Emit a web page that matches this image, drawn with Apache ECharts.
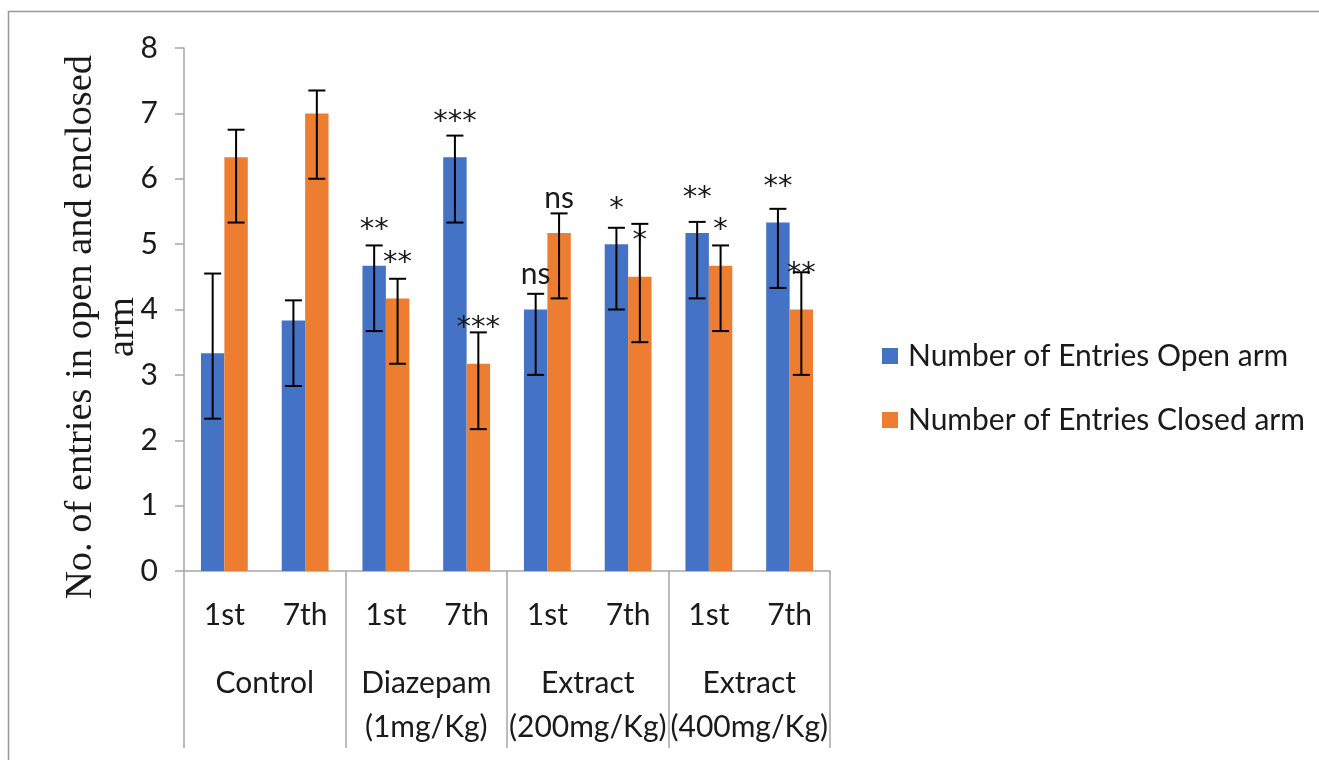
<!DOCTYPE html>
<html>
<head>
<meta charset="utf-8">
<script src="https://cdn.jsdelivr.net/npm/echarts@6/dist/echarts.min.js"></script>
<style>
  html, body { margin: 0; padding: 0; background: #fff; }
  #main { width: 1319px; height: 760px; }
</style>
</head>
<body>
<div id="main"></div>
<script>
// day labels and treatment groups
var days = ['1st', '7th', '1st', '7th', '1st', '7th', '1st', '7th'];
var groups = ['Control', 'Diazepam\n(1mg/Kg)', 'Extract\n(200mg/Kg)', 'Extract\n(400mg/Kg)'];

// mean number of entries
var openArm = [3.33, 3.83, 4.67, 6.33, 4.0, 5.0, 5.17, 5.33];
var closedArm = [6.33, 7.0, 4.17, 3.17, 5.17, 4.5, 4.67, 4.0];

// error bars (plus / minus)
var openErrPlus = [1.22, 0.31, 0.31, 0.33, 0.24, 0.25, 0.17, 0.21];
var openErrMinus = [1, 1, 1, 1, 1, 1, 1, 1];
var closedErrPlus = [0.42, 0.35, 0.30, 0.48, 0.30, 0.81, 0.31, 0.57];
var closedErrMinus = [1, 1, 1, 1, 1, 1, 1, 1];

// significance marks
var openSig = ['', '', '**', '***', 'ns', '*', '**', '**'];
var closedSig = ['', '', '**', '***', 'ns', '*', '*', '**'];

var BAR_W = 0.29; // fraction of the band
var LABEL_FONT = 'Lato';
var GREY = '#a6a6a6';

function errData(means, plus, minus){
  return means.map(function(m, i){ return [i, m - minus[i], m + plus[i]]; });
}

// draws an error bar at the bar centre, side = -1 (open) or 1 (closed)
function errRenderer(side){
  return function(params, api){
    var band = api.size([1, 0])[0];
    var off = side * band * BAR_W / 2;
    var lo = api.coord([api.value(0), api.value(1)]);
    var hi = api.coord([api.value(0), api.value(2)]);
    var x = lo[0] + off;
    var cap = 8.5;
    var st = { stroke: '#000', lineWidth: 2 };
    return {
      type: 'group',
      children: [
        { type: 'line', shape: { x1: x, y1: lo[1], x2: x, y2: hi[1] }, style: st },
        { type: 'line', shape: { x1: x - cap, y1: hi[1], x2: x + cap, y2: hi[1] }, style: st },
        { type: 'line', shape: { x1: x - cap, y1: lo[1], x2: x + cap, y2: lo[1] }, style: st }
      ]
    };
  };
}

function sigLabel(marks){
  return {
    show: true,
    position: 'top',
    distance: 20,
    formatter: function(p){
      var m = marks[p.dataIndex];
      if (!m) return '';
      return m === 'ns' ? '{n|' + m + '}' : '{a|' + m + '}';
    },
    rich: {
      n: { fontFamily: LABEL_FONT, fontSize: 30, lineHeight: 30, color: '#1a1a1a' },
      a: { fontFamily: 'DejaVu Sans', fontSize: 29, lineHeight: 30, color: '#1a1a1a' }
    }
  };
}

var chart = echarts.init(document.getElementById('main'), null, { renderer: 'canvas' });

chart.setOption({
  animation: false,
  color: ['#4472C4', '#ED7D31'],
  grid: { left: 184, right: 489, top: 48, bottom: 189, containLabel: false },
  legend: {
    orient: 'vertical',
    left: 882,
    top: 337,
    padding: 0,
    icon: 'rect',
    itemWidth: 16,
    itemHeight: 16,
    itemGap: 26,
    selectedMode: false,
    textStyle: { fontFamily: LABEL_FONT, fontSize: 30, lineHeight: 38, color: '#1a1a1a', padding: [0, 0, 0, 5] },
    data: ['Number of Entries Open arm', 'Number of Entries Closed arm']
  },
  xAxis: [
    {
      type: 'category',
      data: days,
      axisLine: { lineStyle: { color: GREY, width: 1.5 } },
      axisTick: { show: false },
      axisLabel: { interval: 0, margin: 29, fontFamily: LABEL_FONT, fontSize: 30, lineHeight: 30, color: '#1a1a1a' }
    },
    {
      type: 'category',
      position: 'bottom',
      data: groups,
      axisLine: { show: false },
      axisTick: { show: true, length: 177, interval: 0, lineStyle: { color: GREY, width: 1.5 } },
      axisLabel: { interval: 0, margin: 90, fontFamily: LABEL_FONT, fontSize: 30, lineHeight: 44, color: '#1a1a1a' }
    }
  ],
  yAxis: {
    type: 'value',
    min: 0,
    max: 8,
    interval: 1,
    splitLine: { show: false },
    axisLine: { show: true, lineStyle: { color: GREY, width: 1.5 } },
    axisTick: { show: true, length: 9, lineStyle: { color: GREY, width: 1.5 } },
    axisLabel: { margin: 26, fontFamily: LABEL_FONT, fontSize: 30, color: '#1a1a1a' }
  },
  graphic: [
    {
      type: 'rect',
      shape: { x: 8.5, y: 11.5, width: 1330, height: 800 },
      style: { fill: 'none', stroke: '#999', lineWidth: 1.5 },
      silent: true
    },
    {
      type: 'text',
      x: 102,
      y: 327,
      rotation: Math.PI / 2,
      style: {
        text: 'No. of entries in open and enclosed\narm',
        font: '38.5px "Liberation Serif"',
        fill: '#1a1a1a',
        textAlign: 'center',
        textVerticalAlign: 'middle',
        lineHeight: 42
      }
    }
  ],
  series: [
    {
      name: 'Number of Entries Open arm',
      type: 'bar',
      barWidth: (BAR_W * 100) + '%',
      barGap: '0%',
      data: openArm,
      label: sigLabel(openSig)
    },
    {
      name: 'Number of Entries Closed arm',
      type: 'bar',
      barWidth: (BAR_W * 100) + '%',
      barGap: '0%',
      data: closedArm,
      label: sigLabel(closedSig)
    },
    {
      type: 'custom',
      renderItem: errRenderer(-1),
      data: errData(openArm, openErrPlus, openErrMinus),
      z: 3
    },
    {
      type: 'custom',
      renderItem: errRenderer(1),
      data: errData(closedArm, closedErrPlus, closedErrMinus),
      z: 3
    }
  ]
});
</script>
</body>
</html>
